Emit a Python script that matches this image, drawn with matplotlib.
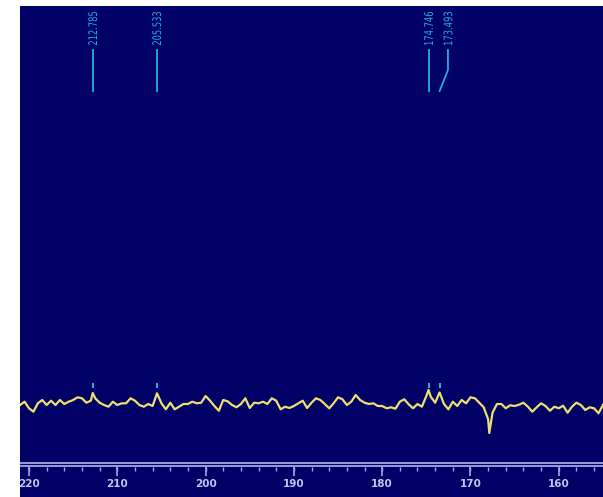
import numpy as np
import matplotlib.pyplot as plt
from matplotlib.textpath import TextPath
from matplotlib.patches import PathPatch
from matplotlib.font_manager import FontProperties
import matplotlib.transforms as mtransforms

# 13C spectrum trace, sampled every 0.5 ppm from 221 down to 155 (intensity in screen units)
grid_start = 221.0
grid_step = 0.5
noise = [0, 3.3, -3.3, -6.7, 1.7, 5, 0, 4.3, 0, 5,
         1, 3.3, 5, 7.7, 6.7, 2.3, 4.3, 6.7, 2.3, 0,
         -1.7, 3.3, 0, 1.7, 1.7, 6.7, 4.3, 0, -1.7, 1,
         -1, 11.7, 1.7, -4.3, 2.3, -4.3, -1.7, 1, 1, 3.3,
         1.7, 2.3, 9, 4.3, -1, -5.7, 5, 3.7, 0, -2.3,
         1, 6.7, -3, 2.3, 1.7, 3.3, 1, 6.7, 4.3, -4.3,
         -1.7, -3, -1, 1.7, 4.3, -3, 2.3, 6.7, 5, 1,
         -3.3, 1.7, 7.7, 5.7, 0, 3.3, 10, 5, 2.3, 1,
         1.7, -1, -1, -3.3, -2.3, -3.7, 3.3, 5.7, 0.7, -3.3,
         1, -1.7, 9, 8.3, 2.3, 12.5, 1, -4.3, 3.3, -1,
         5, 1.7, 7.7, 6.7, 2.3, -2.3, -14.3, -7.7, 1, 1,
         -3.3, -0.3, -1, 0.3, 2.3, -1.7, -6.7, -2.3, 1.7, -1,
         -5.7, -1.7, -3.3, -0.7, -7.7, -1.7, 2.3, 0, -5, -2.3,
         -3.3, -8.3, 0]

# extra points at the peak tops / dip that fall between grid samples
extra_ppm = [212.785, 174.746, 167.87]
extra_int = [12, 15, -28]

# picked peaks: label, position of the peak, position of the label
peak_labels = ["212.785", "205.533", "174.746", "173.493"]
peak_ppm = [212.785, 205.533, 174.746, 173.493]
label_ppm = [212.785, 205.533, 174.746, 172.55]

major_ticks = [220, 210, 200, 190, 180, 170, 160]
minor_ticks = list(range(220, 155, -2))

bg = "#000066"
trace_col = "#eee070"
cyan = "#1ab4d6"
axis_col = "#a8a8e0"

ppm = grid_start - grid_step * np.arange(len(noise))
ppm = np.concatenate([ppm, extra_ppm])
inten = np.concatenate([noise, extra_int])
order = np.argsort(ppm)[::-1]
ppm, inten = ppm[order], inten[order]

fig = plt.figure(figsize=(6.03, 4.97), dpi=100, facecolor="white")
ax = fig.add_axes([20 / 603, 0, 583 / 603, 491 / 497])
ax.set_facecolor(bg)
ax.set_xlim(221.02, 154.99)
ax.set_ylim(-92, 399)
for s in ax.spines.values():
    s.set_visible(False)
ax.set_xticks([])
ax.set_yticks([])

# spectrum
ax.plot(ppm, inten, color=trace_col, lw=1.6)


def narrow_label(x, y, s, length=33, thick=9):
    # tall, condensed vertical label like the NMR software draws
    tp = TextPath((0, 0), s, size=10, prop=FontProperties(family="DejaVu Sans"))
    bb = tp.get_extents()
    tr = (mtransforms.Affine2D()
          .translate(-bb.x0, -(bb.y0 + bb.y1) / 2)
          .scale(length / bb.width, thick / bb.height)
          .rotate_deg(90)
          + mtransforms.ScaledTranslation(x, y, ax.transData))
    ax.add_patch(PathPatch(tp, transform=tr, facecolor=cyan, edgecolor="none"))


# peak picking marks
ax.vlines(peak_ppm, 17, 22, color=cyan, lw=1.5)
for lab, p, lp in zip(peak_labels, peak_ppm, label_ppm):
    if p == lp:
        ax.plot([p, p], [314, 355], color=cyan, lw=1.3)
    else:
        ax.plot([p, lp, lp], [314, 335, 355], color=cyan, lw=1.3)
    narrow_label(lp, 360, lab)

# ppm axis drawn by hand (double rule with ticks below)
ax.axhline(-58, color=axis_col, lw=1.3)
ax.axhline(-61, color=axis_col, lw=1.3)
ax.vlines(minor_ticks, -66, -62, color=axis_col, lw=1)
ax.vlines(major_ticks, -71, -62, color=axis_col, lw=1.2)
for t in major_ticks:
    ax.text(t, -79, str(t), ha="center", va="center", color="#c4c4f0",
            fontsize=7.5, fontweight="bold")

fig.savefig("out.png", dpi=100, facecolor="white")
